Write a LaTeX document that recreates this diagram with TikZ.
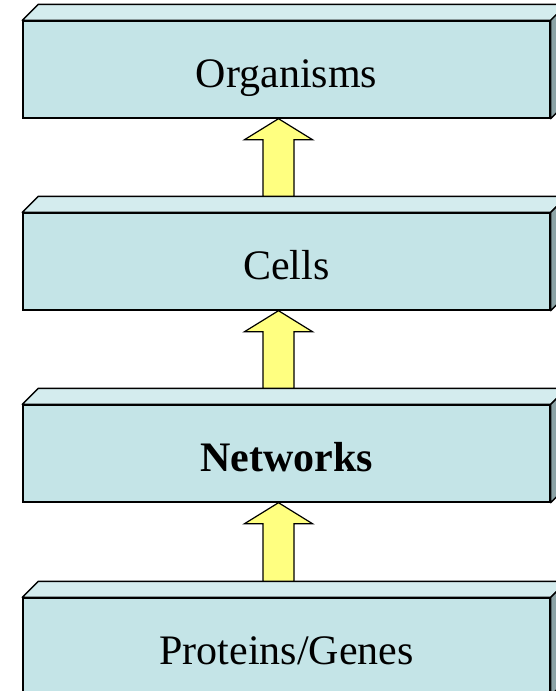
\documentclass[tikz,border=0pt]{standalone}
\usepackage{fontspec}
\setmainfont{Liberation Serif}
\usepackage{tikz}
\usetikzlibrary{calc}

\definecolor{facecol}{HTML}{C4E4E7}
\definecolor{topcol}{HTML}{D4ECEE}
\definecolor{sidecol}{HTML}{8CA3A6}
\definecolor{arrowcol}{HTML}{FFFF80}

\tikzset{
  level/.style={draw, line width=1.4pt, fill=facecol, inner sep=0pt,
    minimum width=527pt, minimum height=97pt,
    text height=35pt, text depth=0pt,
    font=\fontsize{42}{48}\selectfont},
  slab/.style={draw, line width=1.4pt, line join=round},
  upblock/.style={draw, line width=1.2pt, fill=arrowcol},
}

\begin{document}
\begin{tikzpicture}[x=1pt, y=-1pt]
        \useasboundingbox (0,0) rectangle (556,691);
        \clip (0,0) rectangle (556,691);

        % the four levels, front faces
        \node[level] (org)   at (286.5,69.5)  {Organisms};
        \node[level] (cells) at (286.5,261.5) {Cells};
        \node[level] (net)   at (286.5,453.5) {\textbf{Networks}};
        \node[level] (prot)  at (286.5,646.5) {Proteins/Genes};

        % top and right faces give the slabs some depth
        \foreach \n in {org,cells,net,prot} {
            \draw[slab, fill=topcol] (\n.north west) -- ++(16,-16)
                -- ($(\n.north east)+(16,-16)$) -- (\n.north east) -- cycle;
            \draw[slab, fill=sidecol] (\n.north east) -- ++(16,-16)
                -- ($(\n.south east)+(16,-16)$) -- (\n.south east) -- cycle;
        }

        % block arrows from each level up to the next
        \foreach \lo/\hi in {cells/org, net/cells, prot/net}
            \draw[upblock] let \p1 = ($(\hi.south)+(-8,0)$),
                               \p2 = ($(\lo.north)+(-8,-16)$) in
                (\x1,\y1) -- (\x1+34pt,\y1-21pt) -- (\x1+15.5pt,\y1-21pt)
                -- (\x1+15.5pt,\y2) -- (\x1-15.5pt,\y2)
                -- (\x1-15.5pt,\y1-21pt) -- (\x1-34pt,\y1-21pt) -- cycle;
    \end{tikzpicture}
\end{document}
